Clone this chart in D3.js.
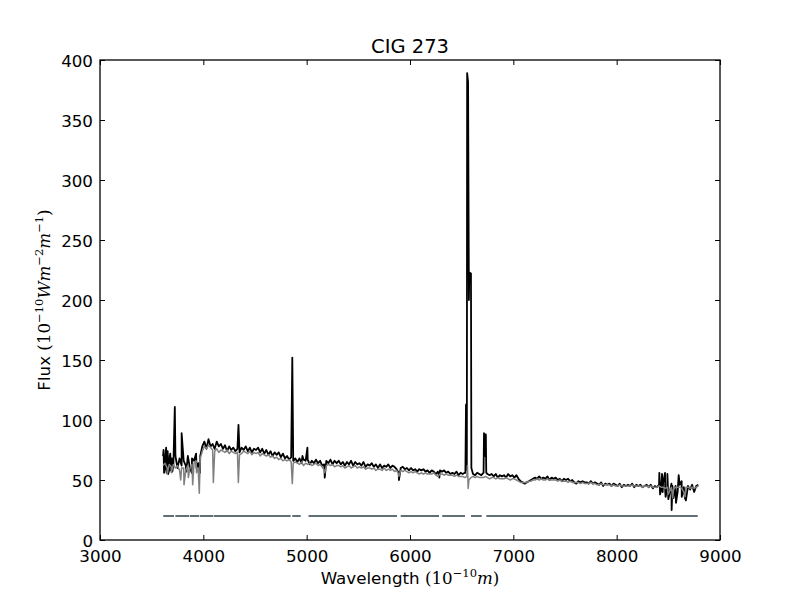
<!DOCTYPE html>
<html>
<head>
<meta charset="utf-8">
<script src="https://cdn.jsdelivr.net/npm/d3@7"></script>
<style>
  body { margin: 0; background: #fff; }
  text { font-family: "DejaVu Sans", sans-serif; fill: #000; }
  .serif { font-family: "DejaVu Serif", serif; }
</style>
</head>
<body>
<div id="chart"></div>
<script>
const gridStart = 3610;
const gridStep = 20;

// observed flux (black)
const obsFlux = [
  70, 60, 74, 58, 66,
  62, 70, 60, 68, 62,
  66, 62, 70, 60, 68,
  66, 72, 64, 70, 78,
  82, 76, 84, 78, 80,
  76, 82, 78, 80, 76,
  79, 74, 78, 75, 77,
  74, 76, 73, 77, 75,
  78, 74, 77, 73, 76,
  75, 77, 73, 76, 72,
  75, 71, 74, 70, 73,
  71, 73, 69, 72, 68,
  70, 67, 69, 66, 68,
  65, 68, 64, 67, 66,
  67, 63, 66, 64, 67,
  64, 66, 62, 63, 66,
  64, 67, 63, 66, 64,
  66, 63, 65, 62, 65,
  63, 66, 62, 65, 63,
  64, 62, 65, 61, 63,
  62, 64, 61, 63, 60,
  63, 60, 62, 61, 63,
  60, 62, 61, 59, 56,
  60, 61, 59, 60, 58,
  60, 58, 59, 57, 59,
  58, 59, 57, 58, 56,
  58, 57, 55, 57, 58,
  57, 58, 56, 57, 55,
  56, 55, 57, 54, 56,
  55, 56, 60, 200, 222,
  55, 54, 56, 55, 54,
  56, 88, 55, 54, 55,
  53, 55, 52, 54, 53,
  54, 52, 55, 53, 54,
  52, 54, 51, 49, 48,
  47, 48, 49, 50, 51,
  52, 51, 53, 51, 52,
  51, 53, 50, 52, 51,
  52, 50, 51, 49, 51,
  50, 51, 49, 50, 48,
  47, 49, 48, 49, 48,
  48, 47, 49, 47, 48,
  47, 46, 48, 45, 47,
  46, 47, 45, 47, 46,
  45, 47, 44, 46, 45,
  46, 45, 47, 44, 46,
  45, 46, 44, 45, 46,
  44, 46, 43, 45, 44,
  46, 42, 48, 40, 44,
  38, 47, 35, 45, 40,
  46, 36, 44, 33, 45,
  42, 46, 40, 45, 46
];

// narrow features of the observed spectrum [wavelength, flux]
const obsLines = [
  [3615, 75], [3620, 56], [3625, 58], [3635, 72], [3640, 77], [3645, 56],
  [3655, 74], [3660, 55], [3665, 57], [3675, 70], [3680, 72], [3685, 58],
  [3695, 68], [3700, 57],
  [3724, 111], [3790, 89],
  [3835, 57], [3889, 56], [3934, 60], [3968, 56],
  [4340, 96], [4861, 152], [4959, 70], [5007, 77],
  [5175, 52], [5893, 50], [6284, 52],
  [6536, 56], [6542, 113], [6546, 58], [6553, 389], [6562, 382], [6574, 223], [6594, 60],
  [6712, 56], [6716, 89], [6722, 87], [6726, 70], [6734, 88], [6738, 56],
  [8413, 56], [8420, 38], [8439, 55], [8445, 40], [8468, 56], [8474, 36],
  [8491, 55], [8500, 34], [8532, 25], [8540, 45], [8574, 31], [8600, 54],
  [8629, 49], [8660, 35]
];

// model flux (grey)
const modelFlux = [
  62, 64, 60, 63, 61,
  63, 60, 62, 58, 60,
  60, 58, 62, 60, 63,
  64, 66, 60, 68, 74,
  78, 76, 79, 77, 75,
  74, 76, 73, 75, 74,
  73, 75, 72, 74, 73,
  72, 73, 71, 72, 74,
  73, 72, 74, 71, 73,
  72, 73, 70, 72, 71,
  70, 71, 69, 70, 68,
  69, 67, 68, 66, 67,
  66, 67, 65, 64, 65,
  64, 63, 65, 62, 64,
  63, 64, 62, 63, 64,
  62, 63, 61, 58, 62,
  63, 62, 63, 61, 62,
  62, 61, 62, 60, 61,
  62, 60, 61, 62, 60,
  61, 60, 61, 59, 60,
  60, 59, 60, 58, 59,
  59, 58, 60, 58, 59,
  58, 59, 57, 58, 55,
  58, 57, 58, 57, 56,
  57, 56, 57, 56, 55,
  56, 55, 56, 55, 55,
  55, 56, 54, 53, 55,
  55, 54, 55, 54, 54,
  54, 53, 54, 53, 53,
  53, 52, 53, 50, 52,
  53, 52, 53, 52, 52,
  52, 53, 52, 51, 52,
  52, 51, 52, 51, 51,
  51, 52, 51, 50, 51,
  51, 50, 49, 48, 48,
  48, 48, 49, 49, 50,
  50, 51, 50, 51, 50,
  50, 51, 50, 50, 50,
  50, 49, 50, 49, 49,
  49, 48, 49, 48, 48,
  48, 48, 47, 48, 47,
  47, 47, 48, 47, 47,
  46, 46, 47, 46, 46,
  46, 46, 45, 46, 45,
  45, 46, 45, 45, 45,
  45, 45, 46, 45, 45,
  45, 45, 44, 45, 45,
  44, 45, 44, 44, 44,
  45, 44, 44, 43, 44,
  40, 44, 42, 44, 44,
  44, 43, 40, 44, 44,
  43, 44, 43, 44, 45
];

// absorption features of the model [wavelength, flux]
const modelLines = [
  [3650, 55], [3690, 56],
  [3781, 50], [3813, 46], [3855, 52], [3897, 46], [3934, 56], [3961, 39],
  [4097, 48], [4339, 48], [4861, 47], [5175, 56], [5893, 53],
  [6556, 62], [6563, 43],
  [8498, 38], [8542, 35], [8662, 36]
];

// masked wavelength ranges drawn at the bottom
const maskLevel = 20;
const maskStart = [3612, 3729, 3871, 3968, 4103, 4861, 5018, 5910, 6312, 6590, 6739];
const maskEnd   = [3716, 3864, 3961, 4097, 4845, 4942, 5874, 6281, 6532, 6694, 8784];

const xTicks = [3000, 4000, 5000, 6000, 7000, 8000, 9000];
const yTicks = [0, 50, 100, 150, 200, 250, 300, 350, 400];

const chartTitle = "CIG 273";

// merge the regular samples with the narrow features
function buildSeries(values, lines) {
  const pts = values.map((v, i) => [gridStart + i * gridStep, v]);
  lines.forEach(l => pts.push(l));
  pts.sort((a, b) => a[0] - b[0]);
  return pts;
}

const width = 800, height = 600;
const margin = { left: 100, right: 80, top: 60, bottom: 60 };
const plotW = width - margin.left - margin.right;
const plotH = height - margin.top - margin.bottom;

const svg = d3.select("#chart").append("svg")
  .attr("width", width)
  .attr("height", height);

svg.append("rect").attr("width", width).attr("height", height).attr("fill", "#fff");

const x = d3.scaleLinear().domain([3000, 9000]).range([0, plotW]);
const y = d3.scaleLinear().domain([0, 400]).range([plotH, 0]);

const g = svg.append("g").attr("transform", `translate(${margin.left},${margin.top})`);

g.append("clipPath").attr("id", "plotclip")
  .append("rect").attr("width", plotW).attr("height", plotH);

const plot = g.append("g").attr("clip-path", "url(#plotclip)");

const line = d3.line()
  .x(d => x(d[0]))
  .y(d => y(d[1]));

// observed spectrum
plot.append("path")
  .datum(buildSeries(obsFlux, obsLines))
  .attr("d", line)
  .attr("fill", "none")
  .attr("stroke", "#000")
  .attr("stroke-width", 1.8)
  .attr("stroke-linejoin", "round");

// model spectrum
plot.append("path")
  .datum(buildSeries(modelFlux, modelLines))
  .attr("d", line)
  .attr("fill", "none")
  .attr("stroke", "#808080")
  .attr("stroke-width", 1.5)
  .attr("stroke-linejoin", "round");

// mask segments
plot.selectAll(".mask")
  .data(maskStart.map((s, i) => [s, maskEnd[i]]))
  .enter()
  .append("line")
  .attr("class", "mask")
  .attr("x1", d => x(d[0]))
  .attr("x2", d => x(d[1]))
  .attr("y1", y(maskLevel))
  .attr("y2", y(maskLevel))
  .attr("stroke", "#5f6f74")
  .attr("stroke-width", 2);

// axes, ticks point inwards on all four sides
const tickLen = 5;

const xAxis = g.append("g")
  .attr("transform", `translate(0,${plotH})`)
  .call(d3.axisBottom(x).tickValues(xTicks).tickSizeInner(-tickLen).tickSizeOuter(0).tickFormat(d3.format("d")));
xAxis.selectAll("text")
  .attr("y", 22)
  .attr("dy", null)
  .style("font-size", "16.7px");

g.append("g")
  .call(d3.axisTop(x).tickValues(xTicks).tickSizeInner(-tickLen).tickSizeOuter(0).tickFormat(""));

const yAxis = g.append("g")
  .call(d3.axisLeft(y).tickValues(yTicks).tickSizeInner(-tickLen).tickSizeOuter(0).tickFormat(d3.format("d")));
yAxis.selectAll("text")
  .attr("x", -7)
  .attr("dy", "0.36em")
  .style("font-size", "16.7px");

g.append("g")
  .attr("transform", `translate(${plotW},0)`)
  .call(d3.axisRight(y).tickValues(yTicks).tickSizeInner(-tickLen).tickSizeOuter(0).tickFormat(""));

g.selectAll(".domain").remove();
g.selectAll(".tick line").attr("stroke", "#000").attr("stroke-width", 1);

// frame
g.append("rect")
  .attr("width", plotW)
  .attr("height", plotH)
  .attr("fill", "none")
  .attr("stroke", "#000")
  .attr("stroke-width", 1.3);

// title
svg.append("text")
  .attr("x", margin.left + plotW / 2)
  .attr("y", 53)
  .attr("text-anchor", "middle")
  .style("font-size", "19.5px")
  .text(chartTitle);

// label with mathtext-like parts: [text, kind] where kind is sans / serif / italic / sup
function addLabel(parent, parts) {
  const t = parent.append("text").attr("text-anchor", "middle").style("font-size", "16.7px");
  let raised = false;
  parts.forEach(p => {
    const span = t.append("tspan").text(p[0]);
    if (p[1] !== "sans") span.attr("class", "serif");
    if (p[1] === "italic") span.style("font-style", "italic");
    if (p[1] === "sup") {
      span.style("font-size", "11.5px");
      if (!raised) { span.attr("dy", "-7"); raised = true; }
    } else if (raised) {
      span.attr("dy", "7");
      raised = false;
    }
  });
  return t;
}

const xLabel = addLabel(svg, [
  ["Wavelength ", "sans"], ["(10", "serif"], ["\u221210", "sup"], ["m", "italic"], [")", "serif"]
]);
xLabel.attr("x", margin.left + plotW / 2).attr("y", 584);

const yLabel = addLabel(svg, [
  ["Flux ", "sans"], ["(10", "serif"], ["\u221210", "sup"], ["Wm", "italic"], ["\u22122", "sup"],
  ["m", "italic"], ["\u22121", "sup"], [")", "serif"]
]);
yLabel.attr("transform", `translate(50,${margin.top + plotH / 2}) rotate(-90)`);
</script>
</body>
</html>
